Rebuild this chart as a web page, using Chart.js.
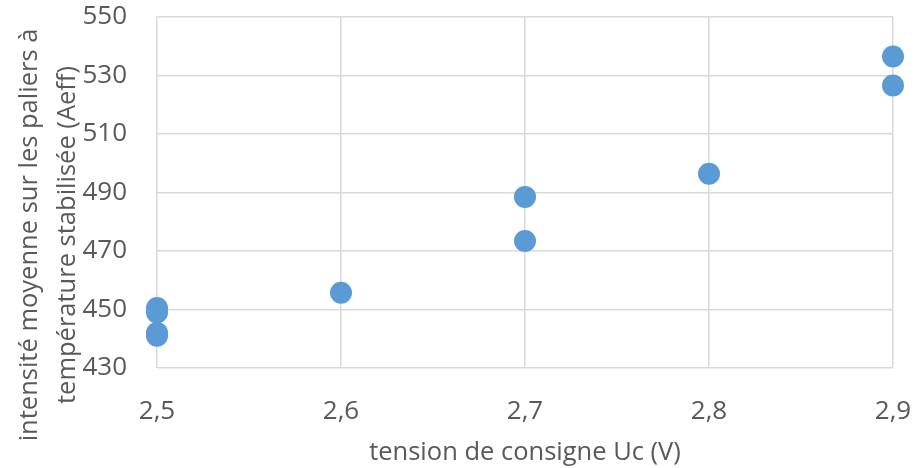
<!DOCTYPE html>
<html>
<head>
<meta charset="utf-8">
<script src="https://cdn.jsdelivr.net/npm/chart.js@4"></script>
<style>
  html, body { margin: 0; padding: 0; background: #fff; }
  #wrap { width: 914px; height: 468px; }
</style>
</head>
<body>
<div id="wrap"><canvas id="chart" width="914" height="468"></canvas></div>
<script>
// valeurs
const tensionUc = [2.5, 2.5, 2.5, 2.5, 2.6, 2.7, 2.7, 2.8, 2.9, 2.9];
const intensite = [450.5, 449, 442, 441, 455.7, 488.5, 473.4, 496.4, 536.5, 526.6];
const xTicks = [2.5, 2.6, 2.7, 2.8, 2.9];
const yTicks = [430, 450, 470, 490, 510, 530, 550];

const xTitle = "tension de consigne Uc (V)";
const yTitleLines = ["intensité moyenne sur les paliers à", "température stabilisée (Aeff)"];

const textColor = "#595959";
const gridColor = "#d9d9d9";

// titre Y sur deux lignes, placé à la main (centré comme dans Excel)
const yTitlePlugin = {
    id: "yTitle",
    afterDraw(chart) {
        const ctx = chart.ctx;
        ctx.save();
        ctx.fillStyle = textColor;
        ctx.font = "25.5px 'Open Sans'";
        ctx.textAlign = "center";
        ctx.textBaseline = "alphabetic";
        const xs = [37, 75];
        yTitleLines.forEach((line, i) => {
            ctx.save();
            ctx.translate(xs[i], 235);
            ctx.rotate(-Math.PI / 2);
            ctx.fillText(line, 0, 0);
            ctx.restore();
        });
        ctx.restore();
    }
};

const points = tensionUc.map((x, i) => ({ x: x, y: intensite[i] }));

new Chart(document.getElementById("chart"), {
    type: "scatter",
    data: {
        datasets: [{
            data: points,
            backgroundColor: "#5b9bd5",
            borderWidth: 0,
            pointRadius: 11,
            pointHoverRadius: 11,
            clip: false
        }]
    },
    options: {
        responsive: false,
        animation: false,
        events: [],
        layout: { autoPadding: false, padding: { top: 17, right: 21, left: 0, bottom: 0 } },
        plugins: {
            legend: { display: false },
            tooltip: { enabled: false }
        },
        scales: {
            x: {
                type: "linear",
                min: xTicks[0],
                max: xTicks[xTicks.length - 1],
                afterBuildTicks: scale => { scale.ticks = xTicks.map(v => ({ value: v })); },
                // la marge des étiquettes ne doit pas rétrécir la zone de tracé
                afterFit: scale => { scale.height = 100; scale.paddingLeft = 0; scale.paddingRight = 0; },
                grid: { color: gridColor, lineWidth: 1.5, drawTicks: false },
                border: { display: false },
                ticks: {
                    color: textColor,
                    padding: 28,
                    font: { family: "'Open Sans'", size: 26 },
                    callback: v => v.toFixed(1).replace(".", ",")
                },
                title: {
                    display: true,
                    text: xTitle,
                    color: textColor,
                    font: { family: "'Open Sans'", size: 25.5 },
                    padding: { top: 2, bottom: 0 }
                }
            },
            y: {
                min: yTicks[0],
                max: yTicks[yTicks.length - 1],
                afterBuildTicks: scale => { scale.ticks = yTicks.map(v => ({ value: v })); },
                afterFit: scale => { scale.width = 157; scale.paddingTop = 0; scale.paddingBottom = 0; },
                grid: { color: gridColor, lineWidth: 1.5, drawTicks: false },
                border: { display: false },
                ticks: {
                    color: textColor,
                    padding: 30,
                    font: { family: "'Open Sans'", size: 26 }
                }
            }
        }
    },
    plugins: [yTitlePlugin]
});
</script>
</body>
</html>
